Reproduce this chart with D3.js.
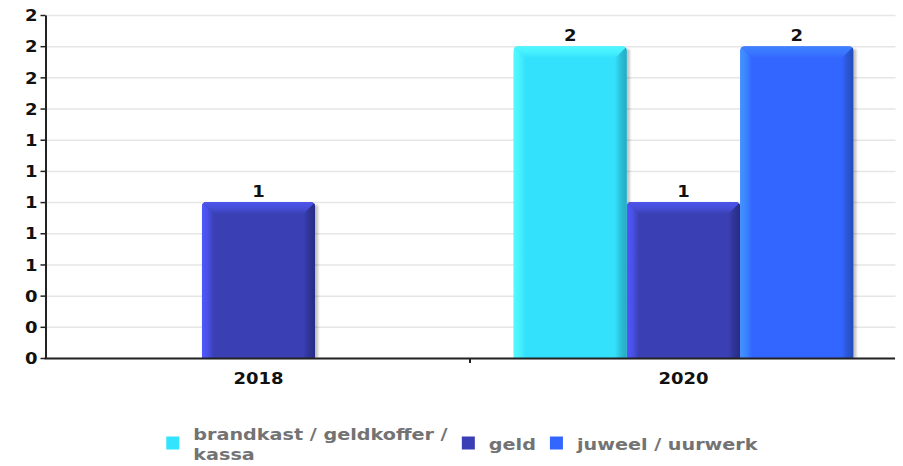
<!DOCTYPE html>
<html>
<head>
<meta charset="utf-8">
<script src="https://cdn.jsdelivr.net/npm/d3@7"></script>
<style>
  html, body { margin: 0; padding: 0; background: #fff; }
  svg { display: block; }
  text { font-family: "DejaVu Sans", sans-serif; font-weight: bold; }
</style>
</head>
<body>
<svg id="chart" width="903" height="466"></svg>
<script>
// Yearly counts per type of stolen goods
const categories = ["2018", "2020"];
const seriesNames = ["brandkast / geldkoffer / kassa", "geld", "juweel / uurwerk"];
const brandkastValues = [null, 2];
const geldValues = [1, 1];
const juweelValues = [null, 2];
const yTickValues = [0, 0.2, 0.4, 0.6, 0.8, 1.0, 1.2, 1.4, 1.6, 1.8, 2.0, 2.2];
const yTickLabels = ["0", "0", "0", "1", "1", "1", "1", "1", "2", "2", "2", "2"];

const seriesValues = [brandkastValues, geldValues, juweelValues];

// shaded bar palette: base, light edge, top edge, dark edge, legend swatch
const palette = [
  { base: "#34e1fc", light: "#52faff", top: "#50f8ff", dark: "#26a8bf", swatch: "#33e4ff" },
  { base: "#3a40b3", light: "#4f58ff", top: "#4d55ec", dark: "#282c84", swatch: "#3a3fb5" },
  { base: "#3366ff", light: "#4094ff", top: "#3d82ff", dark: "#244cb8", swatch: "#3366ff" }
];

const svg = d3.select("#chart");
const plot = { left: 46, right: 896, top: 15, bottom: 358 };
const SX = 1.2; // horizontal stretch applied to all text

const x0 = d3.scaleBand().domain(categories)
  .range([plot.left, plot.right]).paddingInner(0.2).paddingOuter(0.1);
const x1 = d3.scaleBand().domain(seriesNames).range([0, x0.bandwidth()]);
const y = d3.scaleLinear().domain([0, 2.2]).range([plot.bottom, plot.top]);

const defs = svg.append("defs");
const blur = defs.append("filter").attr("id", "shadowBlur")
  .attr("x", "-20%").attr("y", "-20%").attr("width", "140%").attr("height", "140%");
blur.append("feGaussianBlur").attr("stdDeviation", 1.2);

function grad(id, horizontal, stops) {
  const g = defs.append("linearGradient").attr("id", id)
    .attr("x1", 0).attr("y1", 0).attr("x2", horizontal ? 1 : 0).attr("y2", horizontal ? 0 : 1);
  stops.forEach(([o, c]) => g.append("stop").attr("offset", o).attr("stop-color", c));
}
palette.forEach((p, i) => {
  const midL = d3.interpolateRgb(p.light, p.base)(0.35);
  const midR = d3.interpolateRgb(p.base, p.dark)(0.55);
  const midT = d3.interpolateRgb(p.top, p.base)(0.35);
  grad("gl" + i, true, [[0, p.light], [0.5, midL], [1, p.base]]);
  grad("gr" + i, true, [[0, p.base], [0.45, midR], [1, p.dark]]);
  grad("gt" + i, false, [[0, p.top], [0.5, midT], [1, p.base]]);
});

// gridlines
const grid = svg.append("g").attr("transform", `translate(${plot.left - 0.5},0)`)
  .call(d3.axisLeft(y).tickValues(yTickValues).tickSize(-(plot.right - plot.left)).tickFormat(""));
grid.select(".domain").remove();
grid.selectAll(".tick line").attr("stroke", "#e6e6e6").attr("stroke-width", 1.5);

// bars
const bars = svg.append("g");
categories.forEach((cat, ci) => {
  seriesNames.forEach((name, si) => {
    const v = seriesValues[si][ci];
    if (v == null) return;
    const bx = x0(cat) + x1(name);
    const bw = x1.bandwidth();
    const yt = y(v);
    const yb = y(0);
    const b = 12, r = 5;
    const g = bars.append("g");
    // soft shadow to the right
    g.append("rect").attr("x", bx + 3).attr("y", yt + 3).attr("width", bw).attr("height", yb - yt - 3)
      .attr("fill", "#000").attr("opacity", 0.22).attr("filter", "url(#shadowBlur)");
    const clipId = `clip-${ci}-${si}`;
    defs.append("clipPath").attr("id", clipId).append("path")
      .attr("d", `M${bx},${yb} V${yt + r} Q${bx},${yt} ${bx + r},${yt} H${bx + bw - r} Q${bx + bw},${yt} ${bx + bw},${yt + r} V${yb} Z`);
    const c = g.append("g").attr("clip-path", `url(#${clipId})`);
    c.append("rect").attr("x", bx).attr("y", yt).attr("width", bw).attr("height", yb - yt)
      .attr("fill", palette[si].base);
    c.append("polygon")
      .attr("points", [[bx, yt], [bx + b, yt + b], [bx + b, yb], [bx, yb]].join(" "))
      .attr("fill", `url(#gl${si})`);
    c.append("polygon")
      .attr("points", [[bx + bw, yt], [bx + bw - b, yt + b], [bx + bw - b, yb], [bx + bw, yb]].join(" "))
      .attr("fill", `url(#gr${si})`);
    c.append("polygon")
      .attr("points", [[bx, yt], [bx + bw, yt], [bx + bw - b, yt + b], [bx + b, yt + b]].join(" "))
      .attr("fill", `url(#gt${si})`);
    // value label
    svg.append("text")
      .attr("transform", `translate(${bx + bw / 2},${yt - 5}) scale(${SX},1)`)
      .attr("text-anchor", "middle").attr("font-size", 15).attr("fill", "#111")
      .text(d3.format("d")(v));
  });
});

// y axis
const yAxis = svg.append("g").attr("transform", `translate(${plot.left - 0.5},0)`)
  .call(d3.axisLeft(y).tickValues(yTickValues).tickFormat((d, i) => yTickLabels[i])
    .tickSize(5).tickSizeOuter(0));
yAxis.select(".domain").attr("stroke", "#222").attr("stroke-width", 2);
yAxis.selectAll(".tick line").attr("stroke", "#222").attr("stroke-width", 1.5);
yAxis.selectAll(".tick text")
  .attr("x", -8 / SX).attr("dy", "0.38em")
  .attr("transform", `scale(${SX},1)`)
  .attr("font-size", 15).attr("font-family", "DejaVu Sans").attr("font-weight", "bold")
  .attr("fill", "#111");

// x axis
const xAxis = svg.append("g").attr("transform", `translate(0,${plot.bottom})`)
  .call(d3.axisBottom(x0).tickSize(0).tickSizeOuter(0).tickPadding(0));
xAxis.select(".domain")
  .attr("d", `M${plot.left - 1.5},0.5H${plot.right - 1}`)
  .attr("stroke", "#222").attr("stroke-width", 2);
xAxis.selectAll(".tick text")
  .attr("y", 0).attr("dy", 0)
  .attr("transform", `translate(0,26) scale(${SX},1)`)
  .attr("font-size", 15).attr("font-family", "DejaVu Sans").attr("font-weight", "bold")
  .attr("fill", "#111");
// separator tick between the two year groups
const sep = (x0(categories[0]) + x0.bandwidth() + x0(categories[1])) / 2 - 1;
xAxis.append("line").attr("x1", sep).attr("x2", sep).attr("y1", 0).attr("y2", 5)
  .attr("stroke", "#222").attr("stroke-width", 2);

// legend
const legend = svg.append("g");
const legendFont = 16, lineH = 20, maxTextW = 262, swatch = 13;
const measure = svg.append("text").attr("font-size", legendFont).attr("visibility", "hidden");
function textW(s) { measure.text(s); return measure.node().getComputedTextLength() * SX; }
function wrap(s) {
  const words = s.split(" ");
  const lines = [];
  let cur = "";
  words.forEach(w => {
    const t = cur ? cur + " " + w : w;
    if (cur && textW(t) > maxTextW) { lines.push(cur); cur = w; } else cur = t;
  });
  lines.push(cur);
  return lines;
}
const items = seriesNames.map((name, i) => {
  const lines = wrap(name);
  const tw = d3.max(lines, textW);
  return { name, i, lines, tw, w: swatch + 14 + tw };
});
measure.remove();
const itemGap = 14;
const totalW = d3.sum(items, d => d.w) + itemGap * (items.length - 1);
const legendCenterY = 444;
let lx = 462 - totalW / 2;
items.forEach(it => {
  const blockH = it.lines.length * lineH;
  legend.append("rect")
    .attr("x", lx).attr("y", legendCenterY - swatch / 2 - 1)
    .attr("width", swatch).attr("height", swatch)
    .attr("fill", palette[it.i].swatch);
  const firstBase = legendCenterY - blockH / 2 + lineH - 4;
  it.lines.forEach((ln, k) => {
    legend.append("text")
      .attr("transform", `translate(${lx + swatch + 14},${firstBase + k * lineH}) scale(${SX},1)`)
      .attr("font-size", legendFont).attr("fill", "#737373")
      .text(ln);
  });
  lx += it.w + itemGap;
});
</script>
</body>
</html>
